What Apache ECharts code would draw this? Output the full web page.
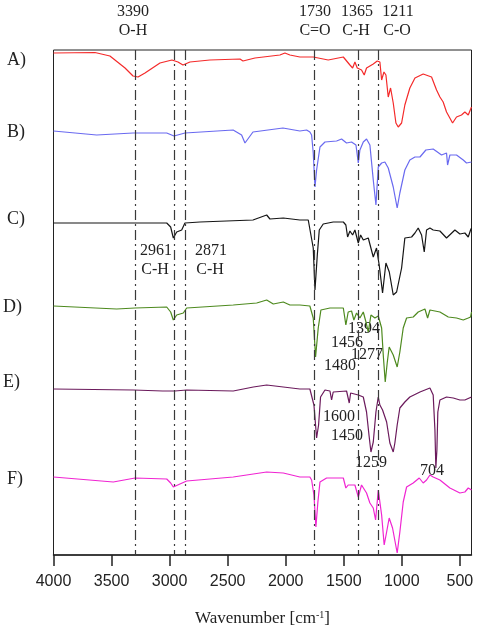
<!DOCTYPE html>
<html>
<head>
<meta charset="utf-8">
<script src="https://cdn.jsdelivr.net/npm/echarts@6/dist/echarts.min.js"></script>
<style>
html,body{margin:0;padding:0;background:#fff;}
#c1{width:484px;height:628px;}
</style>
</head>
<body>
<div id="c1"></div>
<script>
// spectra: [wavenumber, offset intensity (a.u., larger = lower on the plot)]
const specA = [[4000,3],[3643,2.5],[3514,6],[3384,18],[3315,26],[3272,27],[3212,23],[3083,13],[2980,10],[2928,12],[2885,15],[2825,12],[2653,10],[2394,9],[2368,11],[2265,8],[2050,5],[2007,3],[1964,5],[1878,7],[1763,7],[1634,10],[1504,7],[1447,15],[1424,18],[1404,12],[1384,18],[1347,20],[1324,25],[1304,18],[1246,14],[1212,11],[1189,12],[1174,30],[1154,22],[1137,25],[1117,47],[1097,38],[1074,53],[1051,73],[1031,77],[1002,73],[974,55],[931,38],[887,28],[816,24],[744,27],[701,40],[672,47],[644,52],[615,62],[563,73],[529,67],[486,65],[457,62],[428,65],[400,57]]
const specB = [[4000,81],[3628,85],[3315,83],[3025,83],[2962,86],[2868,83],[2453,80],[2380,85],[2351,93],[2282,82],[2024,78],[1878,81],[1820,80],[1792,82],[1777,85],[1763,103],[1748,137],[1734,120],[1705,97],[1662,92],[1562,91],[1519,89],[1476,93],[1433,92],[1395,95],[1375,113],[1361,100],[1332,92],[1304,89],[1275,95],[1246,130],[1223,155],[1203,117],[1174,113],[1146,112],[1117,118],[1074,137],[1040,158],[1017,143],[974,120],[931,110],[887,107],[844,107],[793,100],[730,99],[658,105],[615,103],[606,115],[586,105],[529,105],[471,110],[443,113],[400,112]]
const specC = [[4000,173],[3025,173],[2991,177],[2968,188],[2939,182],[2896,180],[2868,173],[2739,172],[2282,170],[2164,165],[2136,169],[2021,168],[1878,170],[1806,170],[1792,172],[1763,198],[1748,240],[1728,205],[1711,180],[1677,174],[1591,172],[1504,172],[1482,175],[1467,187],[1447,181],[1424,185],[1404,180],[1375,193],[1355,185],[1332,190],[1289,188],[1246,207],[1218,198],[1195,215],[1166,243],[1137,213],[1108,222],[1074,245],[1045,242],[1002,218],[974,188],[916,187],[887,183],[859,178],[830,185],[807,202],[787,180],[758,178],[730,180],[672,181],[615,188],[543,180],[500,184],[457,183],[428,187],[408,180],[400,178]]
const specD = [[4000,256],[3456,259],[3298,258],[3025,257],[2991,262],[2968,270],[2939,265],[2882,263],[2853,258],[2452,255],[2250,253],[2164,250],[2107,254],[2021,252],[1964,255],[1878,255],[1792,256],[1777,258],[1763,268],[1743,307],[1720,278],[1697,260],[1619,258],[1504,258],[1482,275],[1462,262],[1433,261],[1413,270],[1390,263],[1361,268],[1332,262],[1309,272],[1289,282],[1266,265],[1232,268],[1203,266],[1174,278],[1160,305],[1143,332],[1126,313],[1109,297],[1074,305],[1040,317],[1017,302],[988,278],[959,268],[902,267],[859,262],[801,259],[778,268],[758,260],[672,262],[600,267],[529,268],[471,270],[428,268],[408,267],[400,262]]
const specE = [[4000,339],[3313,340],[3060,341],[2954,341],[2853,340],[2452,341],[2279,337],[2164,335],[2021,337],[1878,339],[1792,339],[1777,341],[1757,355],[1734,388],[1717,375],[1700,347],[1662,340],[1619,341],[1605,350],[1591,342],[1476,341],[1453,353],[1441,343],[1375,345],[1332,347],[1304,362],[1283,385],[1266,402],[1246,392],[1223,362],[1203,347],[1189,355],[1166,360],[1131,372],[1103,393],[1074,402],[1060,393],[1040,375],[1017,358],[974,352],[931,347],[844,342],[801,340],[758,338],[730,345],[715,380],[707,418],[698,400],[690,362],[672,350],[615,347],[557,348],[500,350],[457,350],[400,347]]
const specF = [[4000,427],[3485,432],[3298,428],[3025,429],[2991,433],[2968,437],[2911,434],[2853,431],[2452,427],[2164,422],[2021,423],[1878,427],[1792,427],[1777,430],[1757,445],[1740,477],[1723,452],[1705,432],[1648,428],[1504,428],[1482,438],[1462,435],[1404,435],[1375,447],[1347,435],[1304,443],[1275,453],[1246,458],[1226,470],[1203,440],[1174,465],[1152,495],[1131,482],[1109,468],[1080,478],[1040,503],[1017,482],[988,452],[959,437],[902,433],[850,428],[816,433],[787,430],[758,425],[730,427],[672,430],[586,438],[500,443],[457,442],[428,438],[400,440]]

const sampleNames = ['A)','B)','C)','D)','E)','F)']
const sampleColors = ['#f42a2a','#6a6af0','#151515','#4e8a1f','#6b1a5c','#f025d2']
const bandLines = [3300,2958,2868,1755,1378,1205]
const xTicks = [4000,3500,3000,2500,2000,1500,1000,500]

let chart = echarts.init(document.getElementById('c1'))
let specs = [specA,specB,specC,specD,specE,specF]
let series = specs.map((d,i) => ({
    name: sampleNames[i],
    type: 'line',
    data: d,
    symbol: 'none',
    lineStyle: {width: 1.2, color: sampleColors[i]},
    silent: true,
    z: 3
}))
series[0].markLine = {
    silent: true,
    symbol: ['none','none'],
    label: {show: false},
    lineStyle: {color: '#3a3a3a', width: 1.2, type: [10,4,2,4]},
    data: bandLines.map(v => ({xAxis: v}))
}

const serif = 'Liberation Serif'
let labelY = [61,133,220,308,383,480]
let labelX = [7,7,7,3,3,7]
let graphics = sampleNames.map((s,i) => ({type:'text', left: labelX[i], top: labelY[i]-10, style:{text:s, font:'18px "'+serif+'"', fill:'#222'}}))
// band annotations
let ann = [
    ['3390',133,12],['O-H',133,31],
    ['1730',315,12],['C=O',315,31],
    ['1365',357,12],['C-H',356,31],
    ['1211',398,12],['C-O',397,31],
    ['2961',156,251],['C-H',155,270],
    ['2871',211,251],['C-H',210,270],
    ['1394',364,329],['1456',347,343],['1277',367,355],['1480',340,366],
    ['1600',339,417],['1450',347,436],['1259',371,463],['704',432,471]
]
ann.forEach(a => {
    graphics.push({type:'text', x: a[1], y: a[2], style:{text:a[0], font:'16px "'+serif+'"', fill:'#222', align:'center', verticalAlign:'middle'}})
})

let option = {
    backgroundColor: '#fff',
    animation: false,
    grid: {left: 53.5, right: 12.5, top: 50, bottom: 73, outerBoundsMode: 'none', containLabel: false, show: true, borderColor: '#222', borderWidth: 1},
    xAxis: {
        type: 'value',
        min: 400,
        max: 4000,
        inverse: true,
        name: 'Wavenumber [cm{sup|-1}]',
        nameLocation: 'middle',
        nameGap: 55,
        nameTextStyle: {
            fontFamily: serif, fontSize: 17, color: '#222',
            rich: {sup: {fontFamily: serif, fontSize: 10, color: '#222', verticalAlign: 'top', padding: [0,0,8,0]}}
        },
        splitLine: {show: false},
        axisLine: {onZero: false, lineStyle: {color: '#222', width: 1.5}},
        axisTick: {show: true, length: 11, inside: false, customValues: xTicks, lineStyle: {color: '#222', width: 1.5}},
        axisLabel: {
            customValues: xTicks,
            margin: 19, fontFamily: 'Liberation Sans', fontSize: 16, color: '#222',
            formatter: v => String(v)
        }
    },
    yAxis: {
        type: 'value',
        min: 0,
        max: 505,
        inverse: true,
        show: false,
        splitLine: {show: false}
    },
    graphic: graphics,
    series: series
}
chart.setOption(option)
</script>
</body>
</html>
